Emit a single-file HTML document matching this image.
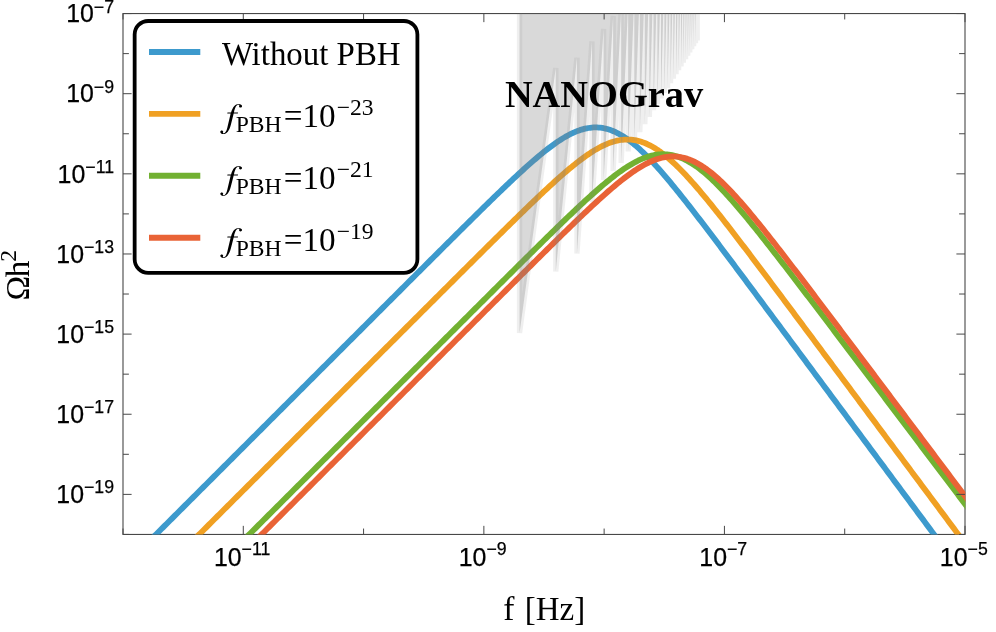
<!DOCTYPE html>
<html><head><meta charset="utf-8"><title>plot</title>
<style>
html,body{margin:0;padding:0;background:#fff;}
body{width:996px;height:632px;overflow:hidden;}
svg{display:block;will-change:transform;}
text{white-space:pre;}
.sans{font-family:"Liberation Sans",sans-serif;}
.serif{font-family:"Liberation Serif",serif;}
</style></head><body>
<svg width="996" height="632" viewBox="0 0 996 632">
<defs><clipPath id="cp"><rect x="123.00" y="13.55" width="842.40" height="521.00"/></clipPath></defs>
<rect width="996" height="632" fill="#fff"/>

<rect x="123.00" y="13.55" width="842.00" height="520.90" stroke="#484848" stroke-width="1.1" fill="none"/>
<g clip-path="url(#cp)" fill="none" stroke-width="5.80" stroke-linejoin="round">
<path d="M116.99,573.45 L118.69,571.74 L120.40,570.04 L122.11,568.33 L123.82,566.62 L125.53,564.91 L127.23,563.21 L128.94,561.50 L130.65,559.79 L132.36,558.09 L134.07,556.38 L135.77,554.67 L137.48,552.97 L139.19,551.26 L140.90,549.55 L142.61,547.85 L144.31,546.14 L146.02,544.43 L147.73,542.72 L149.44,541.02 L151.15,539.31 L152.85,537.60 L154.56,535.90 L156.27,534.19 L157.98,532.48 L159.69,530.78 L161.40,529.07 L163.10,527.36 L164.81,525.65 L166.52,523.95 L168.23,522.24 L169.94,520.53 L171.64,518.83 L173.35,517.12 L175.06,515.41 L176.77,513.71 L178.48,512.00 L180.18,510.29 L181.89,508.59 L183.60,506.88 L185.31,505.17 L187.02,503.46 L188.72,501.76 L190.43,500.05 L192.14,498.34 L193.85,496.64 L195.56,494.93 L197.26,493.22 L198.97,491.52 L200.68,489.81 L202.39,488.10 L204.10,486.39 L205.80,484.69 L207.51,482.98 L209.22,481.27 L210.93,479.57 L212.64,477.86 L214.34,476.15 L216.05,474.45 L217.76,472.74 L219.47,471.03 L221.18,469.33 L222.89,467.62 L224.59,465.91 L226.30,464.20 L228.01,462.50 L229.72,460.79 L231.43,459.08 L233.13,457.38 L234.84,455.67 L236.55,453.96 L238.26,452.26 L239.97,450.55 L241.67,448.84 L243.38,447.14 L245.09,445.43 L246.80,443.72 L248.51,442.01 L250.21,440.31 L251.92,438.60 L253.63,436.89 L255.34,435.19 L257.05,433.48 L258.75,431.77 L260.46,430.07 L262.17,428.36 L263.88,426.65 L265.59,424.94 L267.29,423.24 L269.00,421.53 L270.71,419.82 L272.42,418.12 L274.13,416.41 L275.84,414.70 L277.54,413.00 L279.25,411.29 L280.96,409.58 L282.67,407.88 L284.38,406.17 L286.08,404.46 L287.79,402.75 L289.50,401.05 L291.21,399.34 L292.92,397.63 L294.62,395.93 L296.33,394.22 L298.04,392.51 L299.75,390.81 L301.46,389.10 L303.16,387.39 L304.87,385.69 L306.58,383.98 L308.29,382.27 L310.00,380.56 L311.70,378.86 L313.41,377.15 L315.12,375.44 L316.83,373.74 L318.54,372.03 L320.24,370.32 L321.95,368.62 L323.66,366.91 L325.37,365.20 L327.08,363.50 L328.78,361.79 L330.49,360.08 L332.20,358.37 L333.91,356.67 L335.62,354.96 L337.33,353.25 L339.03,351.55 L340.74,349.84 L342.45,348.13 L344.16,346.43 L345.87,344.72 L347.57,343.01 L349.28,341.31 L350.99,339.60 L352.70,337.89 L354.41,336.19 L356.11,334.48 L357.82,332.77 L359.53,331.07 L361.24,329.36 L362.95,327.65 L364.65,325.95 L366.36,324.24 L368.07,322.53 L369.78,320.83 L371.49,319.12 L373.19,317.41 L374.90,315.71 L376.61,314.00 L378.32,312.29 L380.03,310.59 L381.73,308.88 L383.44,307.17 L385.15,305.47 L386.86,303.76 L388.57,302.05 L390.27,300.35 L391.98,298.64 L393.69,296.94 L395.40,295.23 L397.11,293.52 L398.82,291.82 L400.52,290.11 L402.23,288.41 L403.94,286.70 L405.65,284.99 L407.36,283.29 L409.06,281.58 L410.77,279.88 L412.48,278.17 L414.19,276.47 L415.90,274.76 L417.60,273.06 L419.31,271.35 L421.02,269.65 L422.73,267.95 L424.44,266.24 L426.14,264.54 L427.85,262.83 L429.56,261.13 L431.27,259.43 L432.98,257.72 L434.68,256.02 L436.39,254.32 L438.10,252.62 L439.81,250.92 L441.52,249.21 L443.22,247.51 L444.93,245.81 L446.64,244.11 L448.35,242.41 L450.06,240.71 L451.76,239.02 L453.47,237.32 L455.18,235.62 L456.89,233.92 L458.60,232.23 L460.31,230.53 L462.01,228.84 L463.72,227.15 L465.43,225.46 L467.14,223.76 L468.85,222.07 L470.55,220.39 L472.26,218.70 L473.97,217.01 L475.68,215.33 L477.39,213.65 L479.09,211.96 L480.80,210.28 L482.51,208.61 L484.22,206.93 L485.93,205.26 L487.63,203.59 L489.34,201.92 L491.05,200.26 L492.76,198.59 L494.47,196.93 L496.17,195.28 L497.88,193.63 L499.59,191.98 L501.30,190.33 L503.01,188.69 L504.71,187.06 L506.42,185.43 L508.13,183.80 L509.84,182.18 L511.55,180.57 L513.25,178.96 L514.96,177.37 L516.67,175.77 L518.38,174.19 L520.09,172.61 L521.80,171.05 L523.50,169.49 L525.21,167.95 L526.92,166.41 L528.63,164.89 L530.34,163.38 L532.04,161.88 L533.75,160.39 L535.46,158.93 L537.17,157.47 L538.88,156.04 L540.58,154.62 L542.29,153.22 L544.00,151.84 L545.71,150.48 L547.42,149.15 L549.12,147.84 L550.83,146.56 L552.54,145.30 L554.25,144.07 L555.96,142.87 L557.66,141.70 L559.37,140.56 L561.08,139.46 L562.79,138.40 L564.50,137.37 L566.20,136.38 L567.91,135.44 L569.62,134.54 L571.33,133.68 L573.04,132.87 L574.75,132.11 L576.45,131.40 L578.16,130.74 L579.87,130.14 L581.58,129.60 L583.29,129.11 L584.99,128.68 L586.70,128.31 L588.41,128.00 L590.12,127.76 L591.83,127.58 L593.53,127.47 L595.24,127.43 L596.95,127.45 L598.66,127.54 L600.37,127.70 L602.07,127.93 L603.78,128.23 L605.49,128.59 L607.20,129.03 L608.91,129.53 L610.61,130.11 L612.32,130.75 L614.03,131.46 L615.74,132.23 L617.45,133.07 L619.15,133.97 L620.86,134.93 L622.57,135.96 L624.28,137.04 L625.99,138.18 L627.69,139.38 L629.40,140.63 L631.11,141.94 L632.82,143.29 L634.53,144.70 L636.24,146.15 L637.94,147.65 L639.65,149.19 L641.36,150.77 L643.07,152.40 L644.78,154.06 L646.48,155.76 L648.19,157.49 L649.90,159.25 L651.61,161.05 L653.32,162.88 L655.02,164.73 L656.73,166.61 L658.44,168.52 L660.15,170.45 L661.86,172.41 L663.56,174.38 L665.27,176.38 L666.98,178.39 L668.69,180.42 L670.40,182.47 L672.10,184.54 L673.81,186.62 L675.52,188.72 L677.23,190.82 L678.94,192.94 L680.64,195.08 L682.35,197.22 L684.06,199.37 L685.77,201.54 L687.48,203.71 L689.18,205.89 L690.89,208.08 L692.60,210.28 L694.31,212.48 L696.02,214.69 L697.73,216.91 L699.43,219.13 L701.14,221.36 L702.85,223.59 L704.56,225.83 L706.27,228.07 L707.97,230.31 L709.68,232.56 L711.39,234.82 L713.10,237.07 L714.81,239.33 L716.51,241.59 L718.22,243.86 L719.93,246.13 L721.64,248.40 L723.35,250.67 L725.05,252.95 L726.76,255.22 L728.47,257.50 L730.18,259.78 L731.89,262.06 L733.59,264.35 L735.30,266.63 L737.01,268.92 L738.72,271.20 L740.43,273.49 L742.13,275.78 L743.84,278.07 L745.55,280.36 L747.26,282.66 L748.97,284.95 L750.67,287.24 L752.38,289.54 L754.09,291.83 L755.80,294.13 L757.51,296.42 L759.22,298.72 L760.92,301.02 L762.63,303.32 L764.34,305.62 L766.05,307.91 L767.76,310.21 L769.46,312.51 L771.17,314.81 L772.88,317.11 L774.59,319.41 L776.30,321.71 L778.00,324.01 L779.71,326.32 L781.42,328.62 L783.13,330.92 L784.84,333.22 L786.54,335.52 L788.25,337.82 L789.96,340.13 L791.67,342.43 L793.38,344.73 L795.08,347.03 L796.79,349.34 L798.50,351.64 L800.21,353.94 L801.92,356.24 L803.62,358.55 L805.33,360.85 L807.04,363.15 L808.75,365.46 L810.46,367.76 L812.16,370.06 L813.87,372.37 L815.58,374.67 L817.29,376.98 L819.00,379.28 L820.71,381.58 L822.41,383.89 L824.12,386.19 L825.83,388.49 L827.54,390.80 L829.25,393.10 L830.95,395.41 L832.66,397.71 L834.37,400.01 L836.08,402.32 L837.79,404.62 L839.49,406.93 L841.20,409.23 L842.91,411.53 L844.62,413.84 L846.33,416.14 L848.03,418.45 L849.74,420.75 L851.45,423.06 L853.16,425.36 L854.87,427.66 L856.57,429.97 L858.28,432.27 L859.99,434.58 L861.70,436.88 L863.41,439.19 L865.11,441.49 L866.82,443.79 L868.53,446.10 L870.24,448.40 L871.95,450.71 L873.66,453.01 L875.36,455.32 L877.07,457.62 L878.78,459.92 L880.49,462.23 L882.20,464.53 L883.90,466.84 L885.61,469.14 L887.32,471.45 L889.03,473.75 L890.74,476.05 L892.44,478.36 L894.15,480.66 L895.86,482.97 L897.57,485.27 L899.28,487.58 L900.98,489.88 L902.69,492.19 L904.40,494.49 L906.11,496.79 L907.82,499.10 L909.52,501.40 L911.23,503.71 L912.94,506.01 L914.65,508.32 L916.36,510.62 L918.06,512.92 L919.77,515.23 L921.48,517.53 L923.19,519.84 L924.90,522.14 L926.60,524.45 L928.31,526.75 L930.02,529.05 L931.73,531.36 L933.44,533.66 L935.15,535.97 L936.85,538.27 L938.56,540.58 L940.27,542.88 L941.98,545.19 L943.69,547.49 L945.39,549.79 L947.10,552.10 L948.81,554.40 L950.52,556.71 L952.23,559.01 L953.93,561.32 L955.64,563.62 L957.35,565.93 L959.06,568.23 L960.77,570.53 L962.47,572.84 L964.18,575.14 L965.89,577.45 L967.60,579.75 L969.31,582.06 L971.01,584.36" stroke="#3d9acd"/>
<path d="M116.99,616.60 L118.69,614.89 L120.40,613.19 L122.11,611.48 L123.82,609.77 L125.53,608.07 L127.23,606.36 L128.94,604.65 L130.65,602.94 L132.36,601.24 L134.07,599.53 L135.77,597.82 L137.48,596.12 L139.19,594.41 L140.90,592.70 L142.61,591.00 L144.31,589.29 L146.02,587.58 L147.73,585.87 L149.44,584.17 L151.15,582.46 L152.85,580.75 L154.56,579.05 L156.27,577.34 L157.98,575.63 L159.69,573.93 L161.40,572.22 L163.10,570.51 L164.81,568.81 L166.52,567.10 L168.23,565.39 L169.94,563.68 L171.64,561.98 L173.35,560.27 L175.06,558.56 L176.77,556.86 L178.48,555.15 L180.18,553.44 L181.89,551.74 L183.60,550.03 L185.31,548.32 L187.02,546.62 L188.72,544.91 L190.43,543.20 L192.14,541.49 L193.85,539.79 L195.56,538.08 L197.26,536.37 L198.97,534.67 L200.68,532.96 L202.39,531.25 L204.10,529.55 L205.80,527.84 L207.51,526.13 L209.22,524.42 L210.93,522.72 L212.64,521.01 L214.34,519.30 L216.05,517.60 L217.76,515.89 L219.47,514.18 L221.18,512.48 L222.89,510.77 L224.59,509.06 L226.30,507.36 L228.01,505.65 L229.72,503.94 L231.43,502.23 L233.13,500.53 L234.84,498.82 L236.55,497.11 L238.26,495.41 L239.97,493.70 L241.67,491.99 L243.38,490.29 L245.09,488.58 L246.80,486.87 L248.51,485.16 L250.21,483.46 L251.92,481.75 L253.63,480.04 L255.34,478.34 L257.05,476.63 L258.75,474.92 L260.46,473.22 L262.17,471.51 L263.88,469.80 L265.59,468.10 L267.29,466.39 L269.00,464.68 L270.71,462.97 L272.42,461.27 L274.13,459.56 L275.84,457.85 L277.54,456.15 L279.25,454.44 L280.96,452.73 L282.67,451.03 L284.38,449.32 L286.08,447.61 L287.79,445.91 L289.50,444.20 L291.21,442.49 L292.92,440.78 L294.62,439.08 L296.33,437.37 L298.04,435.66 L299.75,433.96 L301.46,432.25 L303.16,430.54 L304.87,428.84 L306.58,427.13 L308.29,425.42 L310.00,423.71 L311.70,422.01 L313.41,420.30 L315.12,418.59 L316.83,416.89 L318.54,415.18 L320.24,413.47 L321.95,411.77 L323.66,410.06 L325.37,408.35 L327.08,406.65 L328.78,404.94 L330.49,403.23 L332.20,401.52 L333.91,399.82 L335.62,398.11 L337.33,396.40 L339.03,394.70 L340.74,392.99 L342.45,391.28 L344.16,389.58 L345.87,387.87 L347.57,386.16 L349.28,384.46 L350.99,382.75 L352.70,381.04 L354.41,379.33 L356.11,377.63 L357.82,375.92 L359.53,374.21 L361.24,372.51 L362.95,370.80 L364.65,369.09 L366.36,367.39 L368.07,365.68 L369.78,363.97 L371.49,362.27 L373.19,360.56 L374.90,358.85 L376.61,357.15 L378.32,355.44 L380.03,353.73 L381.73,352.03 L383.44,350.32 L385.15,348.61 L386.86,346.91 L388.57,345.20 L390.27,343.49 L391.98,341.79 L393.69,340.08 L395.40,338.37 L397.11,336.67 L398.82,334.96 L400.52,333.25 L402.23,331.55 L403.94,329.84 L405.65,328.13 L407.36,326.43 L409.06,324.72 L410.77,323.01 L412.48,321.31 L414.19,319.60 L415.90,317.89 L417.60,316.19 L419.31,314.48 L421.02,312.78 L422.73,311.07 L424.44,309.36 L426.14,307.66 L427.85,305.95 L429.56,304.25 L431.27,302.54 L432.98,300.83 L434.68,299.13 L436.39,297.42 L438.10,295.72 L439.81,294.01 L441.52,292.31 L443.22,290.60 L444.93,288.90 L446.64,287.19 L448.35,285.49 L450.06,283.78 L451.76,282.08 L453.47,280.38 L455.18,278.67 L456.89,276.97 L458.60,275.27 L460.31,273.56 L462.01,271.86 L463.72,270.16 L465.43,268.45 L467.14,266.75 L468.85,265.05 L470.55,263.35 L472.26,261.65 L473.97,259.95 L475.68,258.25 L477.39,256.55 L479.09,254.85 L480.80,253.15 L482.51,251.46 L484.22,249.76 L485.93,248.06 L487.63,246.37 L489.34,244.67 L491.05,242.98 L492.76,241.28 L494.47,239.59 L496.17,237.90 L497.88,236.21 L499.59,234.52 L501.30,232.84 L503.01,231.15 L504.71,229.47 L506.42,227.78 L508.13,226.10 L509.84,224.42 L511.55,222.74 L513.25,221.07 L514.96,219.39 L516.67,217.72 L518.38,216.05 L520.09,214.39 L521.80,212.73 L523.50,211.06 L525.21,209.41 L526.92,207.75 L528.63,206.10 L530.34,204.46 L532.04,202.82 L533.75,201.18 L535.46,199.55 L537.17,197.92 L538.88,196.30 L540.58,194.68 L542.29,193.07 L544.00,191.47 L545.71,189.87 L547.42,188.28 L549.12,186.70 L550.83,185.13 L552.54,183.57 L554.25,182.01 L555.96,180.47 L557.66,178.94 L559.37,177.42 L561.08,175.91 L562.79,174.41 L564.50,172.93 L566.20,171.47 L567.91,170.02 L569.62,168.58 L571.33,167.17 L573.04,165.77 L574.75,164.39 L576.45,163.04 L578.16,161.70 L579.87,160.39 L581.58,159.11 L583.29,157.85 L584.99,156.62 L586.70,155.41 L588.41,154.24 L590.12,153.10 L591.83,151.99 L593.53,150.92 L595.24,149.89 L596.95,148.89 L598.66,147.94 L600.37,147.03 L602.07,146.16 L603.78,145.33 L605.49,144.56 L607.20,143.83 L608.91,143.16 L610.61,142.53 L612.32,141.96 L614.03,141.45 L615.74,141.00 L617.45,140.60 L619.15,140.26 L620.86,139.99 L622.57,139.78 L624.28,139.63 L625.99,139.54 L627.69,139.53 L629.40,139.58 L631.11,139.69 L632.82,139.87 L634.53,140.13 L636.24,140.44 L637.94,140.83 L639.65,141.28 L641.36,141.80 L643.07,142.39 L644.78,143.04 L646.48,143.76 L648.19,144.54 L649.90,145.39 L651.61,146.30 L653.32,147.26 L655.02,148.29 L656.73,149.38 L658.44,150.52 L660.15,151.72 L661.86,152.97 L663.56,154.27 L665.27,155.62 L666.98,157.02 L668.69,158.46 L670.40,159.95 L672.10,161.48 L673.81,163.06 L675.52,164.67 L677.23,166.32 L678.94,168.01 L680.64,169.73 L682.35,171.48 L684.06,173.27 L685.77,175.08 L687.48,176.92 L689.18,178.79 L690.89,180.69 L692.60,182.60 L694.31,184.54 L696.02,186.51 L697.73,188.49 L699.43,190.49 L701.14,192.51 L702.85,194.55 L704.56,196.60 L706.27,198.67 L707.97,200.75 L709.68,202.84 L711.39,204.95 L713.10,207.07 L714.81,209.20 L716.51,211.34 L718.22,213.50 L719.93,215.66 L721.64,217.83 L723.35,220.00 L725.05,222.19 L726.76,224.38 L728.47,226.58 L730.18,228.79 L731.89,231.00 L733.59,233.22 L735.30,235.44 L737.01,237.67 L738.72,239.90 L740.43,242.14 L742.13,244.38 L743.84,246.62 L745.55,248.87 L747.26,251.12 L748.97,253.37 L750.67,255.63 L752.38,257.89 L754.09,260.15 L755.80,262.42 L757.51,264.68 L759.22,266.95 L760.92,269.22 L762.63,271.49 L764.34,273.77 L766.05,276.04 L767.76,278.32 L769.46,280.60 L771.17,282.88 L772.88,285.16 L774.59,287.44 L776.30,289.73 L778.00,292.01 L779.71,294.30 L781.42,296.58 L783.13,298.87 L784.84,301.16 L786.54,303.45 L788.25,305.74 L789.96,308.03 L791.67,310.32 L793.38,312.61 L795.08,314.90 L796.79,317.19 L798.50,319.48 L800.21,321.78 L801.92,324.07 L803.62,326.36 L805.33,328.66 L807.04,330.95 L808.75,333.24 L810.46,335.54 L812.16,337.83 L813.87,340.13 L815.58,342.42 L817.29,344.72 L819.00,347.02 L820.71,349.31 L822.41,351.61 L824.12,353.91 L825.83,356.20 L827.54,358.50 L829.25,360.80 L830.95,363.09 L832.66,365.39 L834.37,367.69 L836.08,369.98 L837.79,372.28 L839.49,374.58 L841.20,376.88 L842.91,379.17 L844.62,381.47 L846.33,383.77 L848.03,386.07 L849.74,388.36 L851.45,390.66 L853.16,392.96 L854.87,395.26 L856.57,397.56 L858.28,399.85 L859.99,402.15 L861.70,404.45 L863.41,406.75 L865.11,409.05 L866.82,411.35 L868.53,413.64 L870.24,415.94 L871.95,418.24 L873.66,420.54 L875.36,422.84 L877.07,425.14 L878.78,427.43 L880.49,429.73 L882.20,432.03 L883.90,434.33 L885.61,436.63 L887.32,438.93 L889.03,441.22 L890.74,443.52 L892.44,445.82 L894.15,448.12 L895.86,450.42 L897.57,452.72 L899.28,455.02 L900.98,457.31 L902.69,459.61 L904.40,461.91 L906.11,464.21 L907.82,466.51 L909.52,468.81 L911.23,471.11 L912.94,473.41 L914.65,475.70 L916.36,478.00 L918.06,480.30 L919.77,482.60 L921.48,484.90 L923.19,487.20 L924.90,489.50 L926.60,491.79 L928.31,494.09 L930.02,496.39 L931.73,498.69 L933.44,500.99 L935.15,503.29 L936.85,505.59 L938.56,507.88 L940.27,510.18 L941.98,512.48 L943.69,514.78 L945.39,517.08 L947.10,519.38 L948.81,521.68 L950.52,523.98 L952.23,526.27 L953.93,528.57 L955.64,530.87 L957.35,533.17 L959.06,535.47 L960.77,537.77 L962.47,540.07 L964.18,542.36 L965.89,544.66 L967.60,546.96 L969.31,549.26 L971.01,551.56" stroke="#f0a023"/>
<path d="M116.99,666.59 L118.69,664.89 L120.40,663.18 L122.11,661.47 L123.82,659.77 L125.53,658.06 L127.23,656.35 L128.94,654.65 L130.65,652.94 L132.36,651.23 L134.07,649.52 L135.77,647.82 L137.48,646.11 L139.19,644.40 L140.90,642.70 L142.61,640.99 L144.31,639.28 L146.02,637.58 L147.73,635.87 L149.44,634.16 L151.15,632.46 L152.85,630.75 L154.56,629.04 L156.27,627.33 L157.98,625.63 L159.69,623.92 L161.40,622.21 L163.10,620.51 L164.81,618.80 L166.52,617.09 L168.23,615.39 L169.94,613.68 L171.64,611.97 L173.35,610.26 L175.06,608.56 L176.77,606.85 L178.48,605.14 L180.18,603.44 L181.89,601.73 L183.60,600.02 L185.31,598.32 L187.02,596.61 L188.72,594.90 L190.43,593.20 L192.14,591.49 L193.85,589.78 L195.56,588.07 L197.26,586.37 L198.97,584.66 L200.68,582.95 L202.39,581.25 L204.10,579.54 L205.80,577.83 L207.51,576.13 L209.22,574.42 L210.93,572.71 L212.64,571.01 L214.34,569.30 L216.05,567.59 L217.76,565.88 L219.47,564.18 L221.18,562.47 L222.89,560.76 L224.59,559.06 L226.30,557.35 L228.01,555.64 L229.72,553.94 L231.43,552.23 L233.13,550.52 L234.84,548.81 L236.55,547.11 L238.26,545.40 L239.97,543.69 L241.67,541.99 L243.38,540.28 L245.09,538.57 L246.80,536.87 L248.51,535.16 L250.21,533.45 L251.92,531.75 L253.63,530.04 L255.34,528.33 L257.05,526.62 L258.75,524.92 L260.46,523.21 L262.17,521.50 L263.88,519.80 L265.59,518.09 L267.29,516.38 L269.00,514.68 L270.71,512.97 L272.42,511.26 L274.13,509.55 L275.84,507.85 L277.54,506.14 L279.25,504.43 L280.96,502.73 L282.67,501.02 L284.38,499.31 L286.08,497.61 L287.79,495.90 L289.50,494.19 L291.21,492.49 L292.92,490.78 L294.62,489.07 L296.33,487.36 L298.04,485.66 L299.75,483.95 L301.46,482.24 L303.16,480.54 L304.87,478.83 L306.58,477.12 L308.29,475.42 L310.00,473.71 L311.70,472.00 L313.41,470.30 L315.12,468.59 L316.83,466.88 L318.54,465.17 L320.24,463.47 L321.95,461.76 L323.66,460.05 L325.37,458.35 L327.08,456.64 L328.78,454.93 L330.49,453.23 L332.20,451.52 L333.91,449.81 L335.62,448.10 L337.33,446.40 L339.03,444.69 L340.74,442.98 L342.45,441.28 L344.16,439.57 L345.87,437.86 L347.57,436.16 L349.28,434.45 L350.99,432.74 L352.70,431.04 L354.41,429.33 L356.11,427.62 L357.82,425.91 L359.53,424.21 L361.24,422.50 L362.95,420.79 L364.65,419.09 L366.36,417.38 L368.07,415.67 L369.78,413.97 L371.49,412.26 L373.19,410.55 L374.90,408.85 L376.61,407.14 L378.32,405.43 L380.03,403.72 L381.73,402.02 L383.44,400.31 L385.15,398.60 L386.86,396.90 L388.57,395.19 L390.27,393.48 L391.98,391.78 L393.69,390.07 L395.40,388.36 L397.11,386.66 L398.82,384.95 L400.52,383.24 L402.23,381.54 L403.94,379.83 L405.65,378.12 L407.36,376.41 L409.06,374.71 L410.77,373.00 L412.48,371.29 L414.19,369.59 L415.90,367.88 L417.60,366.17 L419.31,364.47 L421.02,362.76 L422.73,361.05 L424.44,359.35 L426.14,357.64 L427.85,355.93 L429.56,354.23 L431.27,352.52 L432.98,350.81 L434.68,349.11 L436.39,347.40 L438.10,345.69 L439.81,343.99 L441.52,342.28 L443.22,340.58 L444.93,338.87 L446.64,337.16 L448.35,335.46 L450.06,333.75 L451.76,332.04 L453.47,330.34 L455.18,328.63 L456.89,326.93 L458.60,325.22 L460.31,323.51 L462.01,321.81 L463.72,320.10 L465.43,318.40 L467.14,316.69 L468.85,314.99 L470.55,313.28 L472.26,311.57 L473.97,309.87 L475.68,308.16 L477.39,306.46 L479.09,304.75 L480.80,303.05 L482.51,301.35 L484.22,299.64 L485.93,297.94 L487.63,296.23 L489.34,294.53 L491.05,292.83 L492.76,291.12 L494.47,289.42 L496.17,287.72 L497.88,286.01 L499.59,284.31 L501.30,282.61 L503.01,280.91 L504.71,279.21 L506.42,277.51 L508.13,275.81 L509.84,274.11 L511.55,272.41 L513.25,270.71 L514.96,269.01 L516.67,267.31 L518.38,265.62 L520.09,263.92 L521.80,262.22 L523.50,260.53 L525.21,258.84 L526.92,257.14 L528.63,255.45 L530.34,253.76 L532.04,252.07 L533.75,250.38 L535.46,248.69 L537.17,247.01 L538.88,245.32 L540.58,243.64 L542.29,241.96 L544.00,240.28 L545.71,238.60 L547.42,236.92 L549.12,235.25 L550.83,233.58 L552.54,231.91 L554.25,230.24 L555.96,228.58 L557.66,226.92 L559.37,225.26 L561.08,223.61 L562.79,221.96 L564.50,220.31 L566.20,218.67 L567.91,217.03 L569.62,215.39 L571.33,213.77 L573.04,212.14 L574.75,210.52 L576.45,208.91 L578.16,207.31 L579.87,205.71 L581.58,204.12 L583.29,202.53 L584.99,200.96 L586.70,199.39 L588.41,197.84 L590.12,196.29 L591.83,194.75 L593.53,193.23 L595.24,191.71 L596.95,190.21 L598.66,188.72 L600.37,187.25 L602.07,185.79 L603.78,184.35 L605.49,182.93 L607.20,181.52 L608.91,180.13 L610.61,178.77 L612.32,177.42 L614.03,176.10 L615.74,174.80 L617.45,173.52 L619.15,172.28 L620.86,171.06 L622.57,169.86 L624.28,168.70 L625.99,167.58 L627.69,166.48 L629.40,165.43 L631.11,164.40 L632.82,163.42 L634.53,162.48 L636.24,161.58 L637.94,160.72 L639.65,159.91 L641.36,159.15 L643.07,158.44 L644.78,157.77 L646.48,157.16 L648.19,156.61 L649.90,156.10 L651.61,155.66 L653.32,155.27 L655.02,154.94 L656.73,154.68 L658.44,154.47 L660.15,154.33 L661.86,154.25 L663.56,154.24 L665.27,154.29 L666.98,154.41 L668.69,154.60 L670.40,154.85 L672.10,155.16 L673.81,155.54 L675.52,155.99 L677.23,156.51 L678.94,157.09 L680.64,157.73 L682.35,158.44 L684.06,159.21 L685.77,160.04 L687.48,160.94 L689.18,161.89 L690.89,162.90 L692.60,163.97 L694.31,165.09 L696.02,166.26 L697.73,167.49 L699.43,168.77 L701.14,170.10 L702.85,171.47 L704.56,172.89 L706.27,174.35 L707.97,175.85 L709.68,177.40 L711.39,178.98 L713.10,180.60 L714.81,182.26 L716.51,183.94 L718.22,185.66 L719.93,187.42 L721.64,189.20 L723.35,191.00 L725.05,192.84 L726.76,194.70 L728.47,196.58 L730.18,198.48 L731.89,200.41 L733.59,202.35 L735.30,204.32 L737.01,206.30 L738.72,208.30 L740.43,210.32 L742.13,212.35 L743.84,214.39 L745.55,216.45 L747.26,218.52 L748.97,220.60 L750.67,222.69 L752.38,224.80 L754.09,226.91 L755.80,229.04 L757.51,231.17 L759.22,233.31 L760.92,235.45 L762.63,237.61 L764.34,239.77 L766.05,241.94 L767.76,244.11 L769.46,246.29 L771.17,248.47 L772.88,250.66 L774.59,252.86 L776.30,255.06 L778.00,257.26 L779.71,259.46 L781.42,261.67 L783.13,263.89 L784.84,266.10 L786.54,268.32 L788.25,270.54 L789.96,272.77 L791.67,275.00 L793.38,277.22 L795.08,279.46 L796.79,281.69 L798.50,283.92 L800.21,286.16 L801.92,288.40 L803.62,290.64 L805.33,292.88 L807.04,295.12 L808.75,297.37 L810.46,299.61 L812.16,301.86 L813.87,304.10 L815.58,306.35 L817.29,308.60 L819.00,310.85 L820.71,313.10 L822.41,315.35 L824.12,317.60 L825.83,319.86 L827.54,322.11 L829.25,324.36 L830.95,326.62 L832.66,328.87 L834.37,331.13 L836.08,333.38 L837.79,335.64 L839.49,337.89 L841.20,340.15 L842.91,342.41 L844.62,344.66 L846.33,346.92 L848.03,349.18 L849.74,351.44 L851.45,353.70 L853.16,355.95 L854.87,358.21 L856.57,360.47 L858.28,362.73 L859.99,364.99 L861.70,367.25 L863.41,369.51 L865.11,371.77 L866.82,374.03 L868.53,376.29 L870.24,378.55 L871.95,380.81 L873.66,383.07 L875.36,385.33 L877.07,387.59 L878.78,389.85 L880.49,392.11 L882.20,394.37 L883.90,396.63 L885.61,398.89 L887.32,401.16 L889.03,403.42 L890.74,405.68 L892.44,407.94 L894.15,410.20 L895.86,412.46 L897.57,414.72 L899.28,416.98 L900.98,419.24 L902.69,421.50 L904.40,423.77 L906.11,426.03 L907.82,428.29 L909.52,430.55 L911.23,432.81 L912.94,435.07 L914.65,437.33 L916.36,439.60 L918.06,441.86 L919.77,444.12 L921.48,446.38 L923.19,448.64 L924.90,450.90 L926.60,453.16 L928.31,455.43 L930.02,457.69 L931.73,459.95 L933.44,462.21 L935.15,464.47 L936.85,466.73 L938.56,469.00 L940.27,471.26 L941.98,473.52 L943.69,475.78 L945.39,478.04 L947.10,480.30 L948.81,482.57 L950.52,484.83 L952.23,487.09 L953.93,489.35 L955.64,491.61 L957.35,493.87 L959.06,496.14 L960.77,498.40 L962.47,500.66 L964.18,502.92 L965.89,505.18 L967.60,507.44 L969.31,509.71 L971.01,511.97" stroke="#72b132"/>
<path d="M116.99,679.00 L118.69,677.29 L120.40,675.58 L122.11,673.87 L123.82,672.17 L125.53,670.46 L127.23,668.75 L128.94,667.05 L130.65,665.34 L132.36,663.63 L134.07,661.93 L135.77,660.22 L137.48,658.51 L139.19,656.81 L140.90,655.10 L142.61,653.39 L144.31,651.68 L146.02,649.98 L147.73,648.27 L149.44,646.56 L151.15,644.86 L152.85,643.15 L154.56,641.44 L156.27,639.74 L157.98,638.03 L159.69,636.32 L161.40,634.62 L163.10,632.91 L164.81,631.20 L166.52,629.49 L168.23,627.79 L169.94,626.08 L171.64,624.37 L173.35,622.67 L175.06,620.96 L176.77,619.25 L178.48,617.55 L180.18,615.84 L181.89,614.13 L183.60,612.42 L185.31,610.72 L187.02,609.01 L188.72,607.30 L190.43,605.60 L192.14,603.89 L193.85,602.18 L195.56,600.48 L197.26,598.77 L198.97,597.06 L200.68,595.36 L202.39,593.65 L204.10,591.94 L205.80,590.23 L207.51,588.53 L209.22,586.82 L210.93,585.11 L212.64,583.41 L214.34,581.70 L216.05,579.99 L217.76,578.29 L219.47,576.58 L221.18,574.87 L222.89,573.16 L224.59,571.46 L226.30,569.75 L228.01,568.04 L229.72,566.34 L231.43,564.63 L233.13,562.92 L234.84,561.22 L236.55,559.51 L238.26,557.80 L239.97,556.10 L241.67,554.39 L243.38,552.68 L245.09,550.97 L246.80,549.27 L248.51,547.56 L250.21,545.85 L251.92,544.15 L253.63,542.44 L255.34,540.73 L257.05,539.03 L258.75,537.32 L260.46,535.61 L262.17,533.91 L263.88,532.20 L265.59,530.49 L267.29,528.78 L269.00,527.08 L270.71,525.37 L272.42,523.66 L274.13,521.96 L275.84,520.25 L277.54,518.54 L279.25,516.84 L280.96,515.13 L282.67,513.42 L284.38,511.71 L286.08,510.01 L287.79,508.30 L289.50,506.59 L291.21,504.89 L292.92,503.18 L294.62,501.47 L296.33,499.77 L298.04,498.06 L299.75,496.35 L301.46,494.65 L303.16,492.94 L304.87,491.23 L306.58,489.52 L308.29,487.82 L310.00,486.11 L311.70,484.40 L313.41,482.70 L315.12,480.99 L316.83,479.28 L318.54,477.58 L320.24,475.87 L321.95,474.16 L323.66,472.45 L325.37,470.75 L327.08,469.04 L328.78,467.33 L330.49,465.63 L332.20,463.92 L333.91,462.21 L335.62,460.51 L337.33,458.80 L339.03,457.09 L340.74,455.39 L342.45,453.68 L344.16,451.97 L345.87,450.26 L347.57,448.56 L349.28,446.85 L350.99,445.14 L352.70,443.44 L354.41,441.73 L356.11,440.02 L357.82,438.32 L359.53,436.61 L361.24,434.90 L362.95,433.20 L364.65,431.49 L366.36,429.78 L368.07,428.07 L369.78,426.37 L371.49,424.66 L373.19,422.95 L374.90,421.25 L376.61,419.54 L378.32,417.83 L380.03,416.13 L381.73,414.42 L383.44,412.71 L385.15,411.01 L386.86,409.30 L388.57,407.59 L390.27,405.88 L391.98,404.18 L393.69,402.47 L395.40,400.76 L397.11,399.06 L398.82,397.35 L400.52,395.64 L402.23,393.94 L403.94,392.23 L405.65,390.52 L407.36,388.82 L409.06,387.11 L410.77,385.40 L412.48,383.70 L414.19,381.99 L415.90,380.28 L417.60,378.57 L419.31,376.87 L421.02,375.16 L422.73,373.45 L424.44,371.75 L426.14,370.04 L427.85,368.33 L429.56,366.63 L431.27,364.92 L432.98,363.21 L434.68,361.51 L436.39,359.80 L438.10,358.09 L439.81,356.39 L441.52,354.68 L443.22,352.97 L444.93,351.27 L446.64,349.56 L448.35,347.85 L450.06,346.15 L451.76,344.44 L453.47,342.73 L455.18,341.03 L456.89,339.32 L458.60,337.62 L460.31,335.91 L462.01,334.20 L463.72,332.50 L465.43,330.79 L467.14,329.08 L468.85,327.38 L470.55,325.67 L472.26,323.97 L473.97,322.26 L475.68,320.55 L477.39,318.85 L479.09,317.14 L480.80,315.44 L482.51,313.73 L484.22,312.03 L485.93,310.32 L487.63,308.62 L489.34,306.91 L491.05,305.21 L492.76,303.50 L494.47,301.80 L496.17,300.09 L497.88,298.39 L499.59,296.69 L501.30,294.98 L503.01,293.28 L504.71,291.58 L506.42,289.87 L508.13,288.17 L509.84,286.47 L511.55,284.76 L513.25,283.06 L514.96,281.36 L516.67,279.66 L518.38,277.96 L520.09,276.26 L521.80,274.56 L523.50,272.86 L525.21,271.16 L526.92,269.46 L528.63,267.77 L530.34,266.07 L532.04,264.37 L533.75,262.68 L535.46,260.98 L537.17,259.29 L538.88,257.60 L540.58,255.91 L542.29,254.22 L544.00,252.53 L545.71,250.84 L547.42,249.15 L549.12,247.47 L550.83,245.78 L552.54,244.10 L554.25,242.42 L555.96,240.74 L557.66,239.06 L559.37,237.39 L561.08,235.72 L562.79,234.05 L564.50,232.38 L566.20,230.71 L567.91,229.05 L569.62,227.39 L571.33,225.74 L573.04,224.08 L574.75,222.44 L576.45,220.79 L578.16,219.15 L579.87,217.52 L581.58,215.88 L583.29,214.26 L584.99,212.64 L586.70,211.03 L588.41,209.42 L590.12,207.82 L591.83,206.22 L593.53,204.64 L595.24,203.06 L596.95,201.49 L598.66,199.93 L600.37,198.38 L602.07,196.84 L603.78,195.32 L605.49,193.80 L607.20,192.30 L608.91,190.81 L610.61,189.33 L612.32,187.87 L614.03,186.43 L615.74,185.00 L617.45,183.59 L619.15,182.20 L620.86,180.83 L622.57,179.48 L624.28,178.16 L625.99,176.86 L627.69,175.58 L629.40,174.33 L631.11,173.11 L632.82,171.92 L634.53,170.76 L636.24,169.63 L637.94,168.54 L639.65,167.48 L641.36,166.46 L643.07,165.48 L644.78,164.54 L646.48,163.64 L648.19,162.79 L649.90,161.98 L651.61,161.22 L653.32,160.51 L655.02,159.85 L656.73,159.25 L658.44,158.70 L660.15,158.21 L661.86,157.77 L663.56,157.40 L665.27,157.08 L666.98,156.83 L668.69,156.64 L670.40,156.51 L672.10,156.45 L673.81,156.45 L675.52,156.52 L677.23,156.66 L678.94,156.86 L680.64,157.13 L682.35,157.47 L684.06,157.88 L685.77,158.35 L687.48,158.89 L689.18,159.49 L690.89,160.16 L692.60,160.90 L694.31,161.70 L696.02,162.56 L697.73,163.48 L699.43,164.46 L701.14,165.50 L702.85,166.60 L704.56,167.75 L706.27,168.96 L707.97,170.22 L709.68,171.52 L711.39,172.88 L713.10,174.29 L714.81,175.74 L716.51,177.23 L718.22,178.77 L719.93,180.34 L721.64,181.95 L723.35,183.60 L725.05,185.29 L726.76,187.01 L728.47,188.76 L730.18,190.54 L731.89,192.35 L733.59,194.18 L735.30,196.05 L737.01,197.93 L738.72,199.84 L740.43,201.78 L742.13,203.73 L743.84,205.70 L745.55,207.69 L747.26,209.70 L748.97,211.73 L750.67,213.77 L752.38,215.82 L754.09,217.89 L755.80,219.97 L757.51,222.07 L759.22,224.17 L760.92,226.29 L762.63,228.42 L764.34,230.56 L766.05,232.70 L767.76,234.86 L769.46,237.02 L771.17,239.19 L772.88,241.36 L774.59,243.55 L776.30,245.73 L778.00,247.93 L779.71,250.13 L781.42,252.34 L783.13,254.55 L784.84,256.76 L786.54,258.98 L788.25,261.20 L789.96,263.43 L791.67,265.66 L793.38,267.89 L795.08,270.12 L796.79,272.36 L798.50,274.60 L800.21,276.85 L801.92,279.09 L803.62,281.34 L805.33,283.59 L807.04,285.84 L808.75,288.10 L810.46,290.35 L812.16,292.61 L813.87,294.87 L815.58,297.13 L817.29,299.39 L819.00,301.65 L820.71,303.91 L822.41,306.17 L824.12,308.44 L825.83,310.71 L827.54,312.97 L829.25,315.24 L830.95,317.51 L832.66,319.78 L834.37,322.05 L836.08,324.32 L837.79,326.59 L839.49,328.86 L841.20,331.13 L842.91,333.40 L844.62,335.68 L846.33,337.95 L848.03,340.22 L849.74,342.50 L851.45,344.77 L853.16,347.04 L854.87,349.32 L856.57,351.59 L858.28,353.87 L859.99,356.14 L861.70,358.42 L863.41,360.70 L865.11,362.97 L866.82,365.25 L868.53,367.52 L870.24,369.80 L871.95,372.08 L873.66,374.35 L875.36,376.63 L877.07,378.91 L878.78,381.19 L880.49,383.46 L882.20,385.74 L883.90,388.02 L885.61,390.30 L887.32,392.57 L889.03,394.85 L890.74,397.13 L892.44,399.41 L894.15,401.68 L895.86,403.96 L897.57,406.24 L899.28,408.52 L900.98,410.80 L902.69,413.08 L904.40,415.35 L906.11,417.63 L907.82,419.91 L909.52,422.19 L911.23,424.47 L912.94,426.74 L914.65,429.02 L916.36,431.30 L918.06,433.58 L919.77,435.86 L921.48,438.14 L923.19,440.42 L924.90,442.69 L926.60,444.97 L928.31,447.25 L930.02,449.53 L931.73,451.81 L933.44,454.09 L935.15,456.37 L936.85,458.64 L938.56,460.92 L940.27,463.20 L941.98,465.48 L943.69,467.76 L945.39,470.04 L947.10,472.32 L948.81,474.59 L950.52,476.87 L952.23,479.15 L953.93,481.43 L955.64,483.71 L957.35,485.99 L959.06,488.27 L960.77,490.55 L962.47,492.82 L964.18,495.10 L965.89,497.38 L967.60,499.66 L969.31,501.94 L971.01,504.22" stroke="#e96336"/>
</g>
<g clip-path="url(#cp)">
<g fill="#808080" fill-opacity="0.3" stroke="none">
<polygon points="519.54,-60.00 519.54,333.00 555.75,68.10 555.75,271.50 576.93,57.80 576.93,253.50 591.96,41.40 591.96,202.00 603.62,29.00 603.62,180.00 613.14,16.00 613.14,171.00 621.19,9.00 621.19,163.00 628.17,2.00 628.17,151.50 634.32,-5.00 634.32,140.93 639.83,-12.00 639.83,132.14 644.80,-19.00 644.80,124.19 649.35,-26.00 649.35,116.93 653.53,-27.30 653.53,110.25 657.40,-28.60 657.40,104.07 661.01,-29.90 661.01,98.31 664.38,-31.20 664.38,92.93 667.55,-32.50 667.55,87.87 670.53,-33.80 670.53,83.10 673.36,-35.10 673.36,78.59 676.04,-36.40 676.04,74.31 678.58,-37.70 678.58,70.24 681.01,-39.00 681.01,66.36 683.34,-40.30 683.34,62.65 685.56,-41.60 685.56,59.10 687.69,-42.90 687.69,55.69 689.74,-44.20 689.74,52.42 691.71,-45.50 691.71,49.27 693.61,-46.80 693.61,46.24 695.45,-48.10 695.45,43.31 697.22,-49.40 697.22,40.48 697.22,-60.00"/>
</g>
<polyline points="519.54,-40.00 519.54,333.00 555.75,68.10 555.75,271.50 576.93,57.80 576.93,253.50 591.96,41.40 591.96,202.00 603.62,29.00 603.62,180.00 613.14,16.00 613.14,171.00 621.19,9.00 621.19,163.00 628.17,2.00 628.17,151.50 634.32,-5.00 634.32,140.93 639.83,-12.00 639.83,132.14 644.80,-19.00 644.80,124.19 649.35,-26.00 649.35,116.93 653.53,-27.30 653.53,110.25 657.40,-28.60 657.40,104.07 661.01,-29.90 661.01,98.31 664.38,-31.20 664.38,92.93 667.55,-32.50 667.55,87.87 670.53,-33.80 670.53,83.10 673.36,-35.10 673.36,78.59 676.04,-36.40 676.04,74.31 678.58,-37.70 678.58,70.24 681.01,-39.00 681.01,66.36 683.34,-40.30 683.34,62.65 685.56,-41.60 685.56,59.10 687.69,-42.90 687.69,55.69 689.74,-44.20 689.74,52.42 691.71,-45.50 691.71,49.27 693.61,-46.80 693.61,46.24 695.45,-48.10 695.45,43.31 697.22,-49.40 697.22,40.48" fill="none" stroke="#808080" stroke-opacity="0.13" stroke-width="5.3" stroke-linejoin="bevel"/>
</g>
<g stroke="#484848" stroke-width="1" fill="none">
<path d="M123.00,534.45 h5.90 M965.00,534.45 h-5.90"/>
<path d="M123.00,494.38 h8.60 M965.00,494.38 h-8.60"/>
<path d="M123.00,454.31 h5.90 M965.00,454.31 h-5.90"/>
<path d="M123.00,414.24 h8.60 M965.00,414.24 h-8.60"/>
<path d="M123.00,374.17 h5.90 M965.00,374.17 h-5.90"/>
<path d="M123.00,334.10 h8.60 M965.00,334.10 h-8.60"/>
<path d="M123.00,294.03 h5.90 M965.00,294.03 h-5.90"/>
<path d="M123.00,253.97 h8.60 M965.00,253.97 h-8.60"/>
<path d="M123.00,213.90 h5.90 M965.00,213.90 h-5.90"/>
<path d="M123.00,173.83 h8.60 M965.00,173.83 h-8.60"/>
<path d="M123.00,133.76 h5.90 M965.00,133.76 h-5.90"/>
<path d="M123.00,93.69 h8.60 M965.00,93.69 h-8.60"/>
<path d="M123.00,53.62 h5.90 M965.00,53.62 h-5.90"/>
<path d="M123.00,13.55 h8.60 M965.00,13.55 h-8.60"/>
<path d="M123.00,534.45 v-5.90 M123.00,13.55 v5.90"/>
<path d="M243.29,534.45 v-8.60 M243.29,13.55 v8.60"/>
<path d="M363.57,534.45 v-5.90 M363.57,13.55 v5.90"/>
<path d="M483.86,534.45 v-8.60 M483.86,13.55 v8.60"/>
<path d="M604.14,534.45 v-5.90 M604.14,13.55 v5.90"/>
<path d="M724.43,534.45 v-8.60 M724.43,13.55 v8.60"/>
<path d="M844.71,534.45 v-5.90 M844.71,13.55 v5.90"/>
<path d="M965.00,534.45 v-8.60 M965.00,13.55 v8.60"/>
</g>
<g class="sans" fill="#000" stroke="#000" stroke-width="0.25" font-size="24.9">
<text x="114.00" y="503.18" text-anchor="end">10<tspan font-size="17.7" dy="-9.8">−19</tspan></text>
<text x="114.00" y="423.04" text-anchor="end">10<tspan font-size="17.7" dy="-9.8">−17</tspan></text>
<text x="114.00" y="342.90" text-anchor="end">10<tspan font-size="17.7" dy="-9.8">−15</tspan></text>
<text x="114.00" y="262.77" text-anchor="end">10<tspan font-size="17.7" dy="-9.8">−13</tspan></text>
<text x="114.00" y="182.63" text-anchor="end">10<tspan font-size="17.7" dy="-9.8">−11</tspan></text>
<text x="114.00" y="102.49" text-anchor="end">10<tspan font-size="17.7" dy="-9.8">−9</tspan></text>
<text x="114.00" y="22.35" text-anchor="end">10<tspan font-size="17.7" dy="-9.8">−7</tspan></text>
<text x="242.09" y="565.90" text-anchor="middle">10<tspan font-size="17.7" dy="-10.5">−11</tspan></text>
<text x="482.66" y="565.90" text-anchor="middle">10<tspan font-size="17.7" dy="-10.5">−9</tspan></text>
<text x="723.23" y="565.90" text-anchor="middle">10<tspan font-size="17.7" dy="-10.5">−7</tspan></text>
<text x="963.80" y="565.90" text-anchor="middle">10<tspan font-size="17.7" dy="-10.5">−5</tspan></text>
</g>
<text class="serif" font-size="33.6" x="503.2" y="619.7">f <tspan x="524.7" font-size="33">[Hz]</tspan></text>
<g class="serif" transform="translate(28.9,0) rotate(-90)"><text font-size="33.2" x="-300.5" y="0">Ω</text><text font-size="33.2" x="-277.35" y="0">h</text><text font-size="23.6" x="-261.8" y="-13.1">2</text></g>
<text class="serif" font-weight="bold" font-size="38.4" x="504.9" y="106.8">NANOGrav</text>
<rect x="134.65" y="21" width="282.75" height="251.80" rx="13.5" ry="13.5" fill="#fff" stroke="#000" stroke-width="3.8"/>
<path d="M149,51.95 H200.3" stroke="#3d9acd" stroke-width="5.9"/>
<path d="M149,113.90 H200.3" stroke="#f0a023" stroke-width="5.9"/>
<path d="M149,175.80 H200.3" stroke="#72b132" stroke-width="5.9"/>
<path d="M149,237.80 H200.3" stroke="#e96336" stroke-width="5.9"/>
<g class="serif" fill="#000">
<text font-size="32.9" x="221.9" y="65.05">Without PBH</text>
<path transform="translate(225.9,127.00) scale(0.0381,-0.0339)" d="M424 613C424 650 387 678 338 678C290 678 252 657 216 613C185 573 164 526 134 428H42L35 396H125L37 -24C14 -132 -18 -186 -60 -186C-72 -186 -80 -179 -80 -170C-80 -166 -79 -164 -76 -159C-72 -153 -71 -149 -71 -143C-71 -122 -89 -105 -110 -105C-131 -105 -147 -123 -147 -146C-147 -181 -113 -207 -68 -207C21 -207 90 -109 132 76L204 396H313L319 428H211C240 586 277 656 333 656C347 656 355 651 355 643C355 643 354 638 351 634C346 626 345 621 345 613C345 589 360 573 382 573C405 573 424 591 424 613Z"/>
<text font-size="23.6" x="235.7" y="132.00">PBH</text>
<text font-size="33.2" x="283.8" y="127.00">=10<tspan font-size="23.6" dy="-12.4" dx="1.0">−23</tspan></text>
<path transform="translate(225.9,188.90) scale(0.0381,-0.0339)" d="M424 613C424 650 387 678 338 678C290 678 252 657 216 613C185 573 164 526 134 428H42L35 396H125L37 -24C14 -132 -18 -186 -60 -186C-72 -186 -80 -179 -80 -170C-80 -166 -79 -164 -76 -159C-72 -153 -71 -149 -71 -143C-71 -122 -89 -105 -110 -105C-131 -105 -147 -123 -147 -146C-147 -181 -113 -207 -68 -207C21 -207 90 -109 132 76L204 396H313L319 428H211C240 586 277 656 333 656C347 656 355 651 355 643C355 643 354 638 351 634C346 626 345 621 345 613C345 589 360 573 382 573C405 573 424 591 424 613Z"/>
<text font-size="23.6" x="235.7" y="193.90">PBH</text>
<text font-size="33.2" x="283.8" y="188.90">=10<tspan font-size="23.6" dy="-12.4" dx="1.0">−21</tspan></text>
<path transform="translate(225.9,250.90) scale(0.0381,-0.0339)" d="M424 613C424 650 387 678 338 678C290 678 252 657 216 613C185 573 164 526 134 428H42L35 396H125L37 -24C14 -132 -18 -186 -60 -186C-72 -186 -80 -179 -80 -170C-80 -166 -79 -164 -76 -159C-72 -153 -71 -149 -71 -143C-71 -122 -89 -105 -110 -105C-131 -105 -147 -123 -147 -146C-147 -181 -113 -207 -68 -207C21 -207 90 -109 132 76L204 396H313L319 428H211C240 586 277 656 333 656C347 656 355 651 355 643C355 643 354 638 351 634C346 626 345 621 345 613C345 589 360 573 382 573C405 573 424 591 424 613Z"/>
<text font-size="23.6" x="235.7" y="255.90">PBH</text>
<text font-size="33.2" x="283.8" y="250.90">=10<tspan font-size="23.6" dy="-12.4" dx="1.0">−19</tspan></text>
</g>
</svg></body></html>
